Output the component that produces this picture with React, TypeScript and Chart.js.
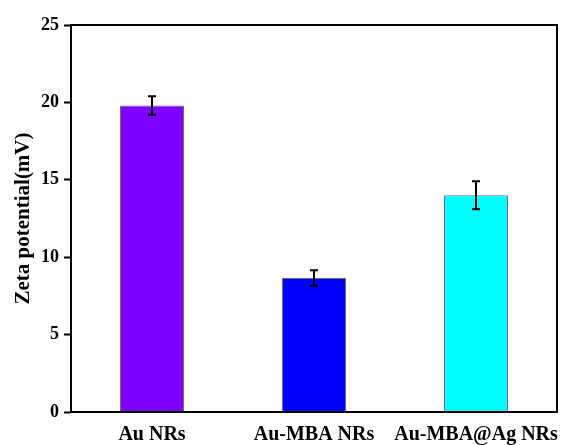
import React, { useEffect, useRef } from "react";
import { Chart, registerables } from "chart.js";

Chart.register(...registerables);

const categories = ["Au NRs", "Au-MBA NRs", "Au-MBA@Ag NRs"];
const zetaValues = [19.8, 8.65, 14.0];
const zetaErrors = [0.6, 0.5, 0.9];
const barColors = ["#7F00FF", "#0000FF", "#00FFFF"];
const yTicks = [0, 5, 10, 15, 20, 25];

const FONT = "'Liberation Serif', 'Times New Roman', serif";

// Draws the box around the plot area (top and right edges included)
const framePlugin = {
  id: "frame",
  afterDatasetsDraw(chart: any) {
    const { ctx, chartArea } = chart;
    ctx.save();
    ctx.strokeStyle = "#000";
    ctx.lineWidth = 2;
    ctx.strokeRect(chartArea.left, chartArea.top, chartArea.right - chartArea.left, chartArea.bottom - chartArea.top);
    ctx.restore();
  },
};

// Draws the standard-deviation whiskers on top of each bar
const errorBarPlugin = {
  id: "errorBars",
  afterDatasetsDraw(chart: any) {
    const { ctx } = chart;
    const meta = chart.getDatasetMeta(0);
    const y = chart.scales.y;
    ctx.save();
    ctx.strokeStyle = "#000";
    ctx.lineWidth = 2;
    meta.data.forEach((bar: any, i: number) => {
      const x = bar.x;
      const top = y.getPixelForValue(zetaValues[i] + zetaErrors[i]);
      const bottom = y.getPixelForValue(zetaValues[i] - zetaErrors[i]);
      const cap = 4;
      ctx.beginPath();
      ctx.moveTo(x, top);
      ctx.lineTo(x, bottom);
      ctx.moveTo(x - cap, top);
      ctx.lineTo(x + cap, top);
      ctx.moveTo(x - cap, bottom);
      ctx.lineTo(x + cap, bottom);
      ctx.stroke();
    });
    ctx.restore();
  },
};

export default function App() {
  const canvasRef = useRef<HTMLCanvasElement>(null);

  useEffect(() => {
    const canvas = canvasRef.current;
    if (!canvas) return;
    const chart = new Chart(canvas, {
      type: "bar",
      data: {
        labels: categories,
        datasets: [
          {
            data: zetaValues,
            backgroundColor: barColors,
            borderColor: "rgba(70,70,90,0.8)",
            borderWidth: 1,
            barPercentage: 0.5,
            categoryPercentage: 0.79,
          },
        ],
      },
      options: {
        responsive: false,
        animation: false,
        devicePixelRatio: 1,
        layout: { padding: { top: 25, right: 11, left: 0, bottom: 0 } },
        plugins: {
          legend: { display: false },
          tooltip: { enabled: false },
        },
        scales: {
          x: {
            grid: { display: false, drawTicks: false },
            border: { display: true, color: "#000", width: 2 },
            ticks: {
              color: "#000",
              padding: 11,
              maxRotation: 0,
              minRotation: 0,
              autoSkip: false,
              font: { family: FONT, size: 20, weight: "bold" },
            },
            afterFit(scale: any) {
              scale.height = 33;
              scale.paddingLeft = 0;
              scale.paddingRight = 0;
            },
          },
          y: {
            min: 0,
            max: 25,
            afterBuildTicks(scale: any) {
              scale.ticks = yTicks.map((v) => ({ value: v }));
            },
            grid: {
              drawOnChartArea: false,
              drawTicks: true,
              tickLength: 7,
              tickWidth: 2,
              tickColor: "#000",
            },
            border: { display: true, color: "#000", width: 2 },
            ticks: {
              color: "#000",
              padding: 5,
              font: { family: FONT, size: 18, weight: "bold" },
            },
            title: {
              display: true,
              text: "Zeta potential(mV)",
              color: "#000",
              padding: { top: 11, bottom: 0 },
              font: { family: FONT, size: 21, weight: "bold" },
            },
            afterFit(scale: any) {
              scale.width = 71;
              scale.paddingTop = 0;
              scale.paddingBottom = 0;
            },
          },
        },
      },
      plugins: [framePlugin, errorBarPlugin],
    });
    return () => chart.destroy();
  }, []);

  return (
    <div style={{ position: "absolute", left: 0, top: 0, width: 568, height: 445, background: "#fff" }}>
      <canvas ref={canvasRef} width={568} height={445} />
    </div>
  );
}
